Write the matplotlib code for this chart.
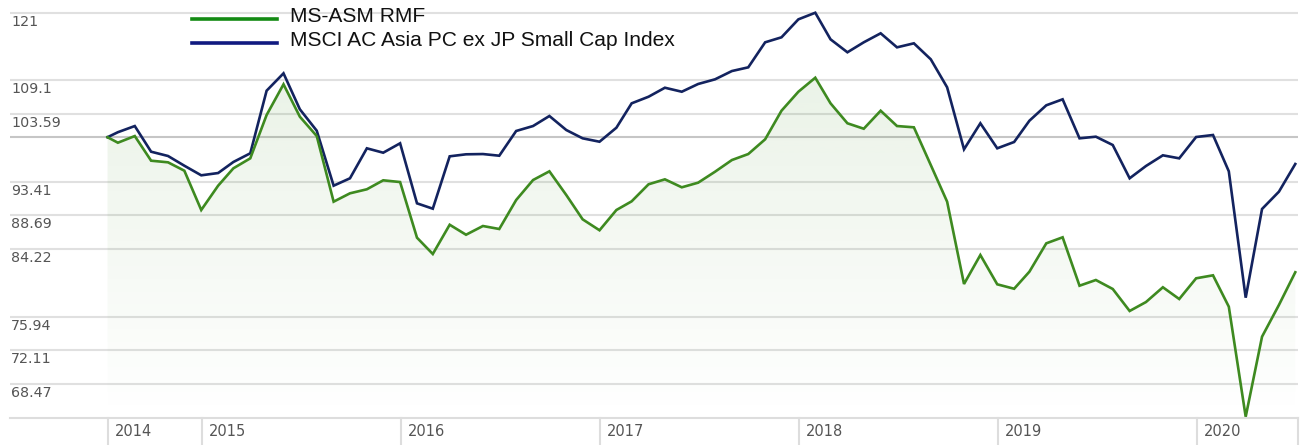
import matplotlib
matplotlib.use('Agg')
import matplotlib.pyplot as plt
import matplotlib.dates as mdates
import numpy as np
import pandas as pd
from matplotlib.transforms import blended_transform_factory, offset_copy
from matplotlib.lines import Line2D

# ---------------- data ----------------
start_date = pd.Timestamp('2014-07-12')
month_ends = pd.date_range('2014-07-31', periods=72, freq=pd.offsets.MonthEnd())
dates = [start_date] + list(month_ends)

fund_name = "MS-ASM RMF"
index_name = "MSCI AC Asia PC ex JP Small Cap Index"

fund = [100.0, 99.16, 100.18, 96.46, 96.22, 94.99, 89.43, 92.83, 95.34, 96.81,
        103.47, 108.46, 103.20, 100.18, 90.58, 91.75, 92.32, 93.60, 93.35, 85.71,
        83.59, 87.43, 86.10, 87.26, 86.86, 90.81, 93.64, 94.90, 91.51, 88.16,
        86.69, 89.43, 90.63, 93.03, 93.74, 92.60, 93.26, 94.84, 96.56, 97.45,
        99.68, 104.15, 107.23, 109.56, 105.34, 102.16, 101.31, 104.15, 101.73, 101.53,
        95.82, 90.58, 79.83, 83.46, 79.79, 79.25, 81.35, 84.97, 85.76, 79.62,
        80.32, 79.22, 76.59, 77.65, 79.43, 78.01, 80.53, 80.90, 77.10, 65.12,
        73.63, 77.30, 81.28]

index = [100.0, 100.77, 101.73, 97.80, 97.16, 95.72, 94.32, 94.65, 96.27, 97.56,
         107.40, 110.30, 104.38, 101.00, 92.83, 93.89, 98.31, 97.65, 99.07, 90.35,
         89.61, 97.11, 97.41, 97.45, 97.20, 100.96, 101.73, 103.31, 101.11, 99.83,
         99.31, 101.47, 105.34, 106.41, 107.89, 107.23, 108.51, 109.29, 110.69, 111.32,
         115.68, 116.57, 119.83, 121.05, 116.21, 113.92, 115.68, 117.29, 114.79, 115.50,
         112.70, 107.96, 98.16, 102.16, 98.31, 99.27, 102.56, 105.02, 105.99, 99.83,
         100.08, 98.81, 93.89, 95.68, 97.26, 96.81, 100.03, 100.34, 94.90, 78.17,
         89.57, 91.98, 95.97]

ytick_values = [121, 109.1, 103.59, 93.41, 88.69, 84.22, 75.94, 72.11, 68.47]
ytick_labels = ["121", "109.1", "103.59", "93.41", "88.69", "84.22", "75.94", "72.11", "68.47"]
base_value = 100

year_labels = ["2014", "2015", "2016", "2017", "2018", "2019", "2020"]
year_starts = [start_date] + [pd.Timestamp(f"{y}-01-01") for y in range(2015, 2021)]

# ---------------- figure ----------------
W, H = 1303, 445
fig = plt.figure(figsize=(W / 100, H / 100), dpi=100)
ax = fig.add_axes([10 / W, 27 / H, 1288 / W, 418 / H])

x = mdates.date2num(dates)
ax.set_yscale('log')
ylo, yhi = 64.99, 123.44
ax.set_ylim(ylo, yhi)
ax.set_xlim(mdates.date2num(pd.Timestamp('2014-01-14')), mdates.date2num(pd.Timestamp('2020-07-05')))

for s in ['top', 'left', 'right']:
    ax.spines[s].set_visible(False)
ax.spines['bottom'].set_color('#dddddd')
ax.spines['bottom'].set_linewidth(1.5)
ax.set_xticks([])
ax.set_yticks([])
ax.yaxis.set_minor_locator(matplotlib.ticker.NullLocator())

# gridlines
for v in ytick_values:
    ax.axhline(v, color='#e0e0e0', lw=1.5, zorder=1)
ax.axhline(base_value, color='#c6c6c6', lw=1.5, zorder=1)

# y labels inside the plot, just below the gridlines
ytr = offset_copy(ax.get_yaxis_transform(), fig=fig, x=1, y=-2, units='dots')
for v, lab in zip(ytick_values, ytick_labels):
    ax.text(0, v, lab, transform=ytr, ha='left', va='top', fontsize=10.3,
            color='#555555', family='DejaVu Sans', zorder=3)

# gradient fill under fund line
poly = ax.fill_between(x, fund, ylo, facecolor='none', edgecolor='none')
green_rgb = np.array([61, 139, 31]) / 255.0
n = 256
img = np.zeros((n, 1, 4))
img[:, 0, :3] = green_rgb
img[:, 0, 3] = np.linspace(0.0, 0.13, n)
im = ax.imshow(img, extent=(0, 1, 0, 1), transform=ax.transAxes, origin='lower',
               aspect='auto', zorder=1.5, interpolation='bilinear')
im.set_clip_path(poly.get_paths()[0], ax.transData)

# lines
ax.plot(x, index, color='#13235f', lw=1.9, zorder=4, solid_joinstyle='miter')
ax.plot(x, fund, color='#3e8a20', lw=1.9, zorder=5, solid_joinstyle='miter')

# x-axis year boxes
btr = blended_transform_factory(ax.transData, fig.transFigure)
divs = list(mdates.date2num(year_starts)) + [ax.get_xlim()[1]]
for d in divs:
    ax.plot([d, d], [0, 27 / H], transform=btr, color='#dddddd', lw=1.5, clip_on=False)
ltr = offset_copy(btr, fig=fig, x=7, y=0, units='dots')
for d, lab in zip(mdates.date2num(year_starts), year_labels):
    ax.text(d, 13 / H, lab, transform=ltr, ha='left', va='center', fontsize=10.5,
            color='#555555', family='DejaVu Sans', clip_on=False)

# legend (drawn in figure pixel space)
leg_items = [(fund_name, '#138a13'), (index_name, '#101a80')]
for i, (name, col) in enumerate(leg_items):
    ly = H - 19 - 24 * i
    fig.add_artist(Line2D([192 / W, 277 / W], [ly / H, ly / H], color=col, lw=2.6,
                          transform=fig.transFigure))
    fig.text(290 / W, (ly - 3.5) / H, name, ha='left', va='baseline',
             family='Liberation Sans', fontsize=15.1, color='#111111')

fig.savefig('out.png', dpi=100, facecolor='white')
